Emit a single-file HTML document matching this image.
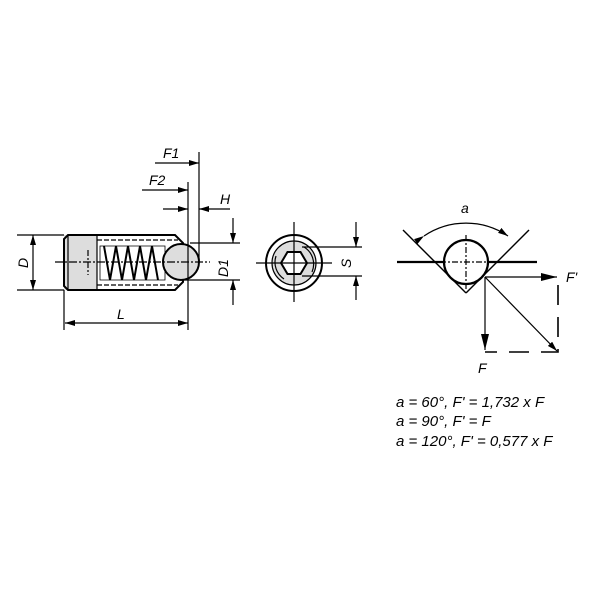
<!DOCTYPE html>
<html><head><style>body{margin:0;background:#fff}svg{display:block}</style></head><body>
<svg width="600" height="600" viewBox="0 0 600 600" font-family="Liberation Sans, sans-serif" font-style="italic">
<defs>
<marker id="a" viewBox="0 0 10 6" refX="10" refY="3" markerWidth="10" markerHeight="6" orient="auto" markerUnits="userSpaceOnUse"><path d="M0,0L10,3L0,6z" fill="#000"/></marker>
<marker id="b" viewBox="0 0 16 8" refX="16" refY="4" markerWidth="16" markerHeight="8" orient="auto" markerUnits="userSpaceOnUse"><path d="M0,0L16,4L0,8z" fill="#000"/></marker>
</defs>
<g stroke="#000" fill="none" stroke-width="1.2">
<!-- left view -->
<rect x="64" y="235" width="33" height="55" fill="#ddd" stroke="none"/>
<path d="M68,235H175L183,243V282L175,290H68L64,286V239Z" stroke-width="2"/>
<line x1="68" y1="235" x2="68" y2="290"/>
<line x1="97" y1="235" x2="97" y2="290"/>
<path d="M97,240H178M97,285H178" stroke-dasharray="5,2"/>
<path d="M100,246V280H165V246Z" stroke-width="0.8"/>
<path d="M104,246L110,280L116,246L122,280L128,246L134,280L140,246L146,280L152,246L158,280" stroke-width="2"/>
<circle cx="181" cy="262" r="18" fill="#ddd" stroke-width="2"/>
<line x1="55" y1="262" x2="210" y2="262" stroke-dasharray="8,2,2,2"/>
<line x1="88" y1="250" x2="88" y2="275" stroke-dasharray="6,2,2,2"/>
<line x1="17" y1="235" x2="64" y2="235"/><line x1="17" y1="290" x2="64" y2="290"/>
<line x1="33" y1="262" x2="33" y2="235" marker-end="url(#a)"/><line x1="33" y1="262" x2="33" y2="290" marker-end="url(#a)"/>
<line x1="64" y1="290" x2="64" y2="330"/>
<line x1="188" y1="182" x2="188" y2="330"/>
<line x1="126" y1="323" x2="65" y2="323" marker-end="url(#a)"/><line x1="126" y1="323" x2="188" y2="323" marker-end="url(#a)"/>
<line x1="199" y1="152" x2="199" y2="262"/>
<line x1="155" y1="163" x2="199" y2="163" marker-end="url(#a)"/>
<line x1="142" y1="190" x2="188" y2="190" marker-end="url(#a)"/>
<line x1="163" y1="209" x2="188" y2="209" marker-end="url(#a)"/>
<line x1="230" y1="209" x2="199" y2="209" marker-end="url(#a)"/>
<line x1="190" y1="243" x2="240" y2="243"/><line x1="184" y1="280" x2="240" y2="280"/>
<line x1="233" y1="218" x2="233" y2="243" marker-end="url(#a)"/><line x1="233" y1="305" x2="233" y2="280" marker-end="url(#a)"/>
<!-- middle -->
<circle cx="294" cy="263" r="28" stroke-width="2"/>
<circle cx="294" cy="263" r="22" fill="#ddd"/>
<path d="M281,263L287.5,252H300.5L307,263L300.5,274H287.5Z" fill="#fff" stroke-width="2"/>
<path d="M304,247A20,20 0 0 1 312,272M284,279A20,20 0 0 1 276,256"/>
<line x1="256" y1="263" x2="332" y2="263"/><line x1="294" y1="222" x2="294" y2="302"/>
<line x1="302" y1="247" x2="362" y2="247"/><line x1="302" y1="276" x2="362" y2="276"/>
<line x1="356" y1="222" x2="356" y2="247" marker-end="url(#a)"/><line x1="356" y1="300" x2="356" y2="276" marker-end="url(#a)"/>
<!-- right -->
<line x1="397" y1="262" x2="537" y2="262" stroke-width="2.2"/>
<line x1="403" y1="230" x2="466" y2="293" stroke-width="1.4"/><line x1="529" y1="230" x2="466" y2="293" stroke-width="1.4"/>
<circle cx="466" cy="262" r="22" fill="#fff" stroke-width="2.2"/>
<line x1="466" y1="235" x2="466" y2="290" stroke-dasharray="6,2,2,2"/>
<line x1="440" y1="262" x2="492" y2="262" stroke-dasharray="6,2,2,2"/>
<path d="M424,236A75,75 0 0 1 508,236" marker-start="url(#a)" marker-end="url(#a)"/>
<line x1="485" y1="277" x2="557" y2="277" marker-end="url(#b)"/>
<line x1="485" y1="277" x2="485" y2="350" marker-end="url(#b)"/>
<line x1="485" y1="277" x2="557" y2="351" marker-end="url(#a)"/>
<path d="M558,285V352H485" stroke-dasharray="20,12" stroke-width="1.6"/>
</g>
<g font-size="14" fill="#000">
<text x="163" y="158">F1</text>
<text x="149" y="185">F2</text>
<text x="220" y="204">H</text>
<text x="117" y="319">L</text>
<text transform="translate(28,268) rotate(-90)">D</text>
<text transform="translate(228,277) rotate(-90)">D1</text>
<text transform="translate(351,268) rotate(-90)">S</text>
<text x="461" y="213">a</text>
<text x="566" y="282">F'</text>
<text x="478" y="373">F</text>
</g>
<g font-size="15" fill="#000">
<text x="396" y="407">a = 60°, F' = 1,732 x F</text>
<text x="396" y="426">a = 90°, F' = F</text>
<text x="396" y="446">a = 120°, F' = 0,577 x F</text>
</g>
</svg>
</body></html>
